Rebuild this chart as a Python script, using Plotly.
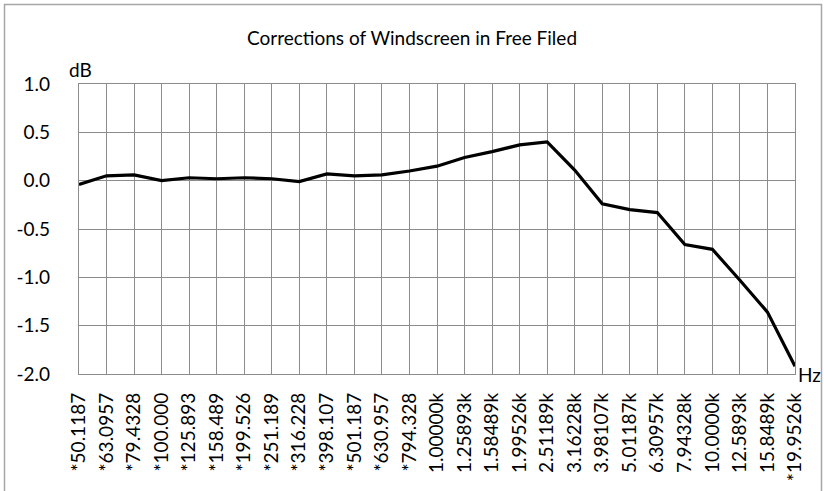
import plotly.graph_objects as go

# Third-octave band centre frequencies (category labels)
freq_labels = [
    "*50.1187", "*63.0957", "*79.4328", "*100.000", "*125.893", "*158.489",
    "*199.526", "*251.189", "*316.228", "*398.107", "*501.187", "*630.957",
    "*794.328", "1.00000k", "1.25893k", "1.58489k", "1.99526k", "2.51189k",
    "3.16228k", "3.98107k", "5.01187k", "6.30957k", "7.94328k", "10.0000k",
    "12.5893k", "15.8489k", "*19.9526k",
]

# Windscreen correction in dB for each band
correction_db = [
    -0.04, 0.05, 0.06, 0.00, 0.03, 0.02, 0.03, 0.02, -0.01, 0.07, 0.05, 0.06,
    0.10, 0.15, 0.24, 0.30, 0.37, 0.40, 0.11, -0.24, -0.30, -0.33, -0.66,
    -0.71, -1.03, -1.36, -1.92,
]

y_ticks = [1.0, 0.5, 0.0, -0.5, -1.0, -1.5, -2.0]
y_tick_text = ["1.0", "0.5", "0.0", "-0.5", "-1.0", "-1.5", "-2.0"]

FONT = "Lato"
GRID = "#8c8c8c"

W, H = 824, 491
L, R, T, B = 79, 29, 84, 117
pw, ph = W - L - R, H - T - B


def px_x(x):
    return (x - L) / pw


def px_y(y):
    return (H - B - y) / ph


fig = go.Figure()
fig.add_trace(go.Scatter(
    x=freq_labels,
    y=correction_db,
    mode="lines",
    line=dict(color="#000000", width=3.2),
    showlegend=False,
    hoverinfo="x+y",
))

fig.update_layout(
    width=W,
    height=H,
    margin=dict(l=L, r=R, t=T, b=B, autoexpand=False),
    paper_bgcolor="#ffffff",
    plot_bgcolor="#ffffff",
    font=dict(family=FONT, color="#000000", size=19),
    title=dict(
        text="Corrections of Windscreen in Free Filed",
        x=0.5, xanchor="center",
        y=1 - 38 / H, yanchor="middle", yref="container",
        font=dict(family=FONT, size=19, color="#000000"),
    ),
    xaxis=dict(
        type="category",
        categoryorder="array",
        categoryarray=freq_labels,
        range=[0, len(freq_labels) - 1],
        showgrid=True, gridcolor=GRID, gridwidth=1.4,
        showline=True, linecolor=GRID, linewidth=1.4, mirror=True,
        tickangle=-90,
        ticks="", ticklabelstandoff=10,
        tickfont=dict(family=FONT, size=19),
        zeroline=False,
        automargin=False,
        fixedrange=True,
    ),
    yaxis=dict(
        range=[-2.0, 1.0],
        tickvals=y_ticks, ticktext=y_tick_text,
        showgrid=True, gridcolor=GRID, gridwidth=1.4,
        showline=True, linecolor=GRID, linewidth=1.4, mirror=True,
        ticks="", ticklabelstandoff=24,
        tickfont=dict(family=FONT, size=19),
        zeroline=False,
        automargin=False,
        fixedrange=True,
    ),
    annotations=[
        dict(text="dB", xref="paper", yref="paper",
             x=px_x(80), y=px_y(69), xanchor="center", yanchor="middle",
             showarrow=False, font=dict(family=FONT, size=19)),
        dict(text="Hz", xref="paper", yref="paper",
             x=px_x(796), y=px_y(375), xanchor="left", yanchor="middle",
             showarrow=False, font=dict(family=FONT, size=19)),
    ],
    shapes=[
        # chart frame: left, top and right edges
        dict(type="path", xref="paper", yref="paper",
             path=(f"M {px_x(4.5)},{px_y(495)} L {px_x(4.5)},{px_y(4.5)} "
                   f"L {px_x(821.5)},{px_y(4.5)} L {px_x(821.5)},{px_y(495)}"),
             line=dict(color="#a6a6a6", width=1.5), layer="above"),
    ],
)

fig.write_html("out.html")
